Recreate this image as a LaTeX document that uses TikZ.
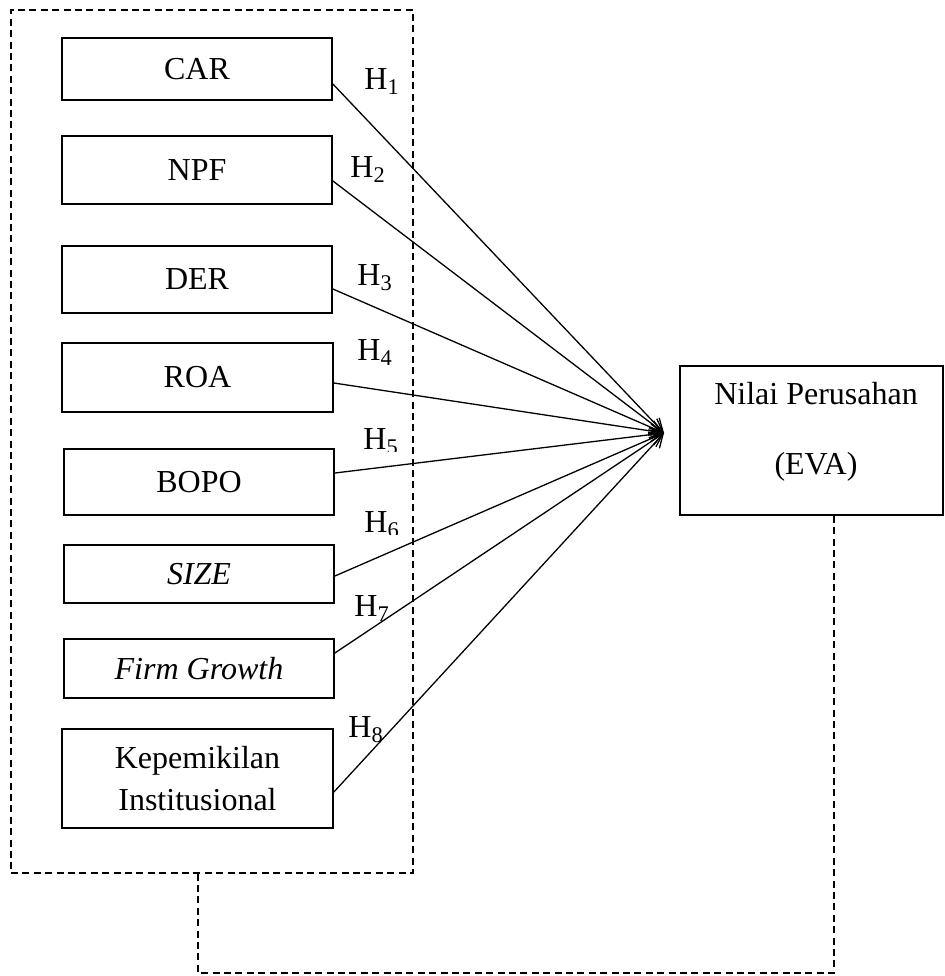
\documentclass[tikz,border=0pt]{standalone}
\usepackage{fontspec}
\setmainfont{Liberation Serif}
\usetikzlibrary{arrows.meta}
\begin{document}
\begin{tikzpicture}[x=0.5pt,y=-0.5pt,
  box/.style={draw,line width=0.9pt,inner sep=0pt,align=center,font=\fontsize{16}{21}\selectfont},
  hlab/.style={anchor=base west,inner sep=0pt,font=\fontsize{16}{19}\selectfont},
  conn/.style={line width=0.65pt,-{Straight Barb[length=6.5pt,width=7pt,line width=0.65pt]}},
  grpline/.style={line width=0.6pt,dash pattern=on 3.5pt off 2.2pt},
  txt/.style={inner sep=0pt,align=center,font=\fontsize{16}{35}\selectfont}]
\useasboundingbox (0,0) rectangle (945,976);
% group box
\node[draw,grpline,inner sep=0pt,minimum width=201pt,minimum height=431.5pt] (group) at (212,441.5) {};
% variable boxes
\node[box,minimum width=135pt,minimum height=31pt] (car) at (197,69) {CAR};
\node[box,minimum width=135pt,minimum height=34pt] (npf) at (197,170) {NPF};
\node[box,minimum width=135pt,minimum height=33.5pt] (der) at (197,279.5) {DER};
\node[box,minimum width=135.5pt,minimum height=34.5pt] (roa) at (197.5,377.5) {ROA};
\node[box,minimum width=135pt,minimum height=33pt] (bopo) at (199,482) {BOPO};
\node[box,minimum width=135pt,minimum height=29pt] (size) at (199,574) {\itshape SIZE};
\node[box,minimum width=135pt,minimum height=29.5pt] (firm) at (199,668.5) {\itshape Firm Growth};
\node[box,minimum width=135.5pt,minimum height=49.5pt] (kep) at (197.5,778.5) {Kepemikilan\\Institusional};
% dependent
\node[draw,line width=0.9pt,inner sep=0pt,minimum width=131.5pt,minimum height=74.5pt] (nilai) at (811.5,440.5) {};
\node[txt] (nilaitxt) at (816,432) {Nilai Perusahan\\(EVA)};
\coordinate (tip) at (664,433);
% connectors
\draw[conn] (car.east |- 0,84) -- (tip);
\draw[conn] (npf.east |- 0,181) -- (tip);
\draw[conn] (der.east |- 0,289) -- (tip);
\draw[conn] (roa.east |- 0,383) -- (tip);
\draw[conn] (bopo.east |- 0,473) -- (tip);
\draw[conn] (size.east |- 0,576) -- (tip);
\draw[conn] (firm.east |- 0,653) -- (tip);
\draw[conn] (kep.east |- 0,792) -- (tip);
% hypothesis labels
\node[hlab] (h1) at (364,89) {H\textsubscript{1}};
\node[hlab] (h2) at (350,177) {H\textsubscript{2}};
\node[hlab] (h3) at (357,285) {H\textsubscript{3}};
\node[hlab] (h4) at (357,360) {H\textsubscript{4}};
\begin{scope}
\clip (340,420) rectangle (420,451.5);
\node[hlab] (h5) at (363,449) {H\textsubscript{5}};
\end{scope}
\begin{scope}
\clip (340,500) rectangle (420,534.5);
\node[hlab] (h6) at (364,532) {H\textsubscript{6}};
\end{scope}
\node[hlab] (h7) at (354,616) {H\textsubscript{7}};
\node[hlab] (h8) at (348,737) {H\textsubscript{8}};
% dashed link
\coordinate (c1) at (198,973);
\coordinate (c2) at (834,973);
\draw[grpline] (group.south -| c1) -- (c1) -- (c2) -- (nilai.south -| c2);
\end{tikzpicture}
\end{document}
